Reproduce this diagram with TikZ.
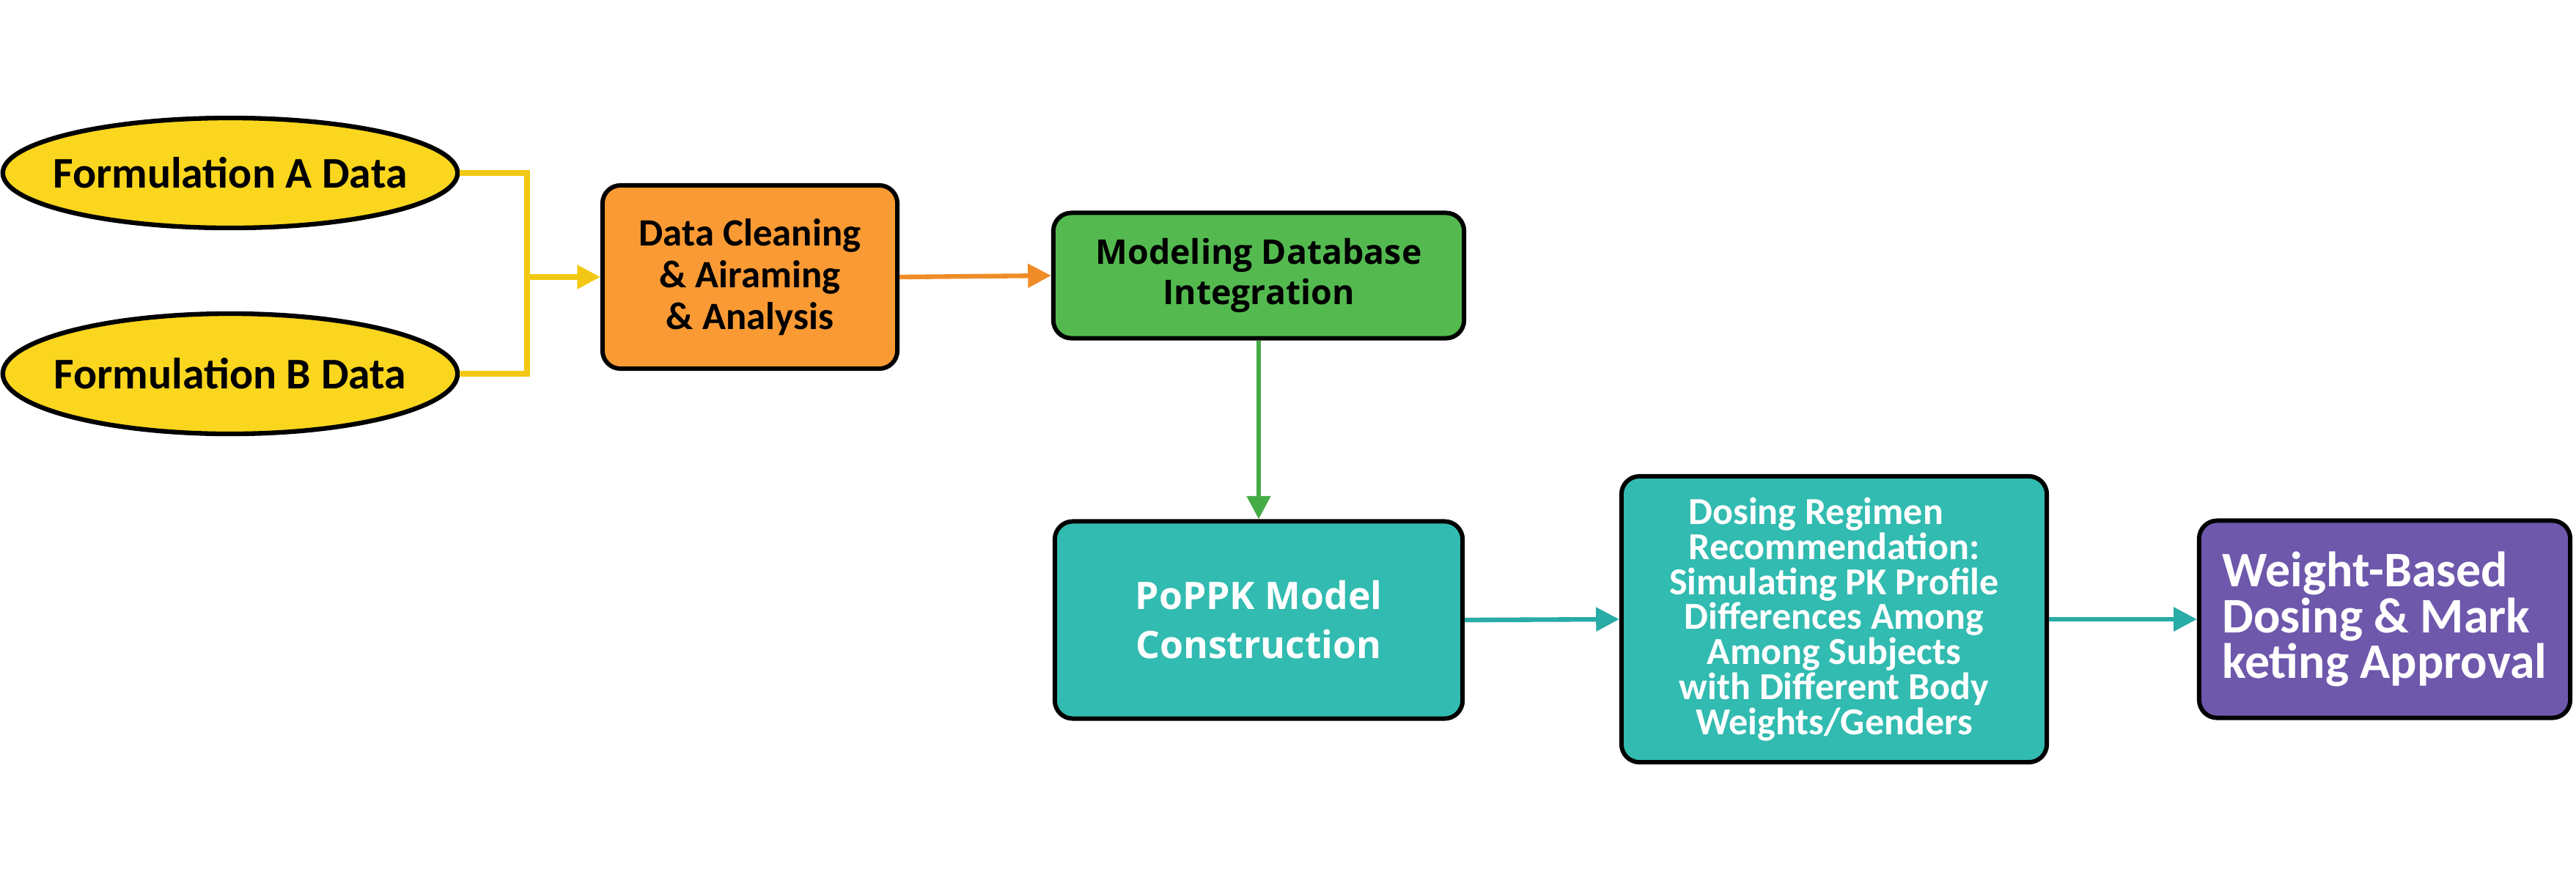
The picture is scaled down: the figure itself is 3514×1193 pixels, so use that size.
\documentclass[tikz,border=0pt]{standalone}
\usepackage{fontspec}
\setmainfont{Carlito}
\newfontfamily\osans{Open Sans}
\usetikzlibrary{shapes.geometric,arrows.meta}
\definecolor{cyel}{RGB}{250,214,30}
\definecolor{cyelline}{RGB}{242,200,20}
\definecolor{corange}{RGB}{249,154,52}
\definecolor{corline}{RGB}{240,140,40}
\definecolor{cgreen}{RGB}{84,186,80}
\definecolor{cgrline}{RGB}{70,172,70}
\definecolor{cteal}{RGB}{50,187,176}
\definecolor{ctline}{RGB}{40,172,165}
\definecolor{cpurple}{RGB}{110,88,172}
\tikzset{
  boxst/.style={draw=black, line width=1.7pt, rounded corners=7pt, inner sep=0pt},
  ellst/.style={ellipse, draw=black, line width=1.8pt, fill=cyel, inner xsep=-20pt, inner ysep=-6pt, minimum width=6.2cm},
  conn/.style={line width=1.8pt, -{Triangle[length=9pt,width=9pt]}}
}
\begin{document}
\begin{tikzpicture}[x=0.01cm,y=-0.01cm]
\useasboundingbox[fill=white] (0,0) rectangle (3514,1193);

\node[ellst, minimum height=1.5cm] (ellA) at (314,236)
  {\bfseries\fontsize{17}{20}\selectfont Formulation A Data};
\node[ellst, minimum height=1.64cm] (ellB) at (314,510)
  {\bfseries\fontsize{17}{20}\selectfont Formulation B Data};

\node[boxst, fill=corange, minimum width=4.02cm, minimum height=2.5cm, align=center,
  font=\bfseries\fontsize{15}{16.3}\selectfont] (clean) at (1023,378)
  {Data Cleaning\\\& Airaming\\\& Analysis};

\node[boxst, fill=cgreen, minimum width=5.6cm, minimum height=1.71cm, align=center,
  font=\osans\bfseries\fontsize{13.2}{15.5}\selectfont] (integ) at (1717,376)
  {Modeling Database\\Integration};

\node[boxst, fill=cteal, minimum width=5.56cm, minimum height=2.69cm, align=center,
  text=white, font=\osans\bfseries\fontsize{14.7}{19}\selectfont] (poppk) at (1717,846)
  {PoPPK Model\\Construction};

\node[boxst, fill=cteal, minimum width=5.8cm, minimum height=3.9cm, align=center,
  text=white, font=\bfseries\fontsize{14.8}{13.6}\selectfont] (dosing) at (2502,845)
  {\rlap{Dosing Regimen}\phantom{Recommendation:}\\Recommendation:\\Simulating PK Profile\\Differences Among\\Among Subjects\\with Different Body\\Weights/Genders};

\node[boxst, fill=cpurple, minimum width=5.06cm, minimum height=2.69cm, align=left,
  text=white, font=\bfseries\fontsize{19.3}{16.8}\selectfont] (approval) at (3253,845)
  {Weight-Based\\Dosing \& Mark\\keting Approval};

\coordinate (jx) at (719,378);
\draw[cyelline, line width=2pt] (ellA.east) -| (jx) |- (ellB.east);
\draw[conn, cyelline, line width=2pt] (jx) -- (clean.west);
\draw[conn, corline] (clean.east) -- (integ.west);
\draw[conn, cgrline] (integ.south) -- (poppk.north);
\draw[conn, ctline] (poppk.east) -- (dosing.west);
\draw[conn, ctline] (dosing.east) -- (approval.west);
\end{tikzpicture}
\end{document}
